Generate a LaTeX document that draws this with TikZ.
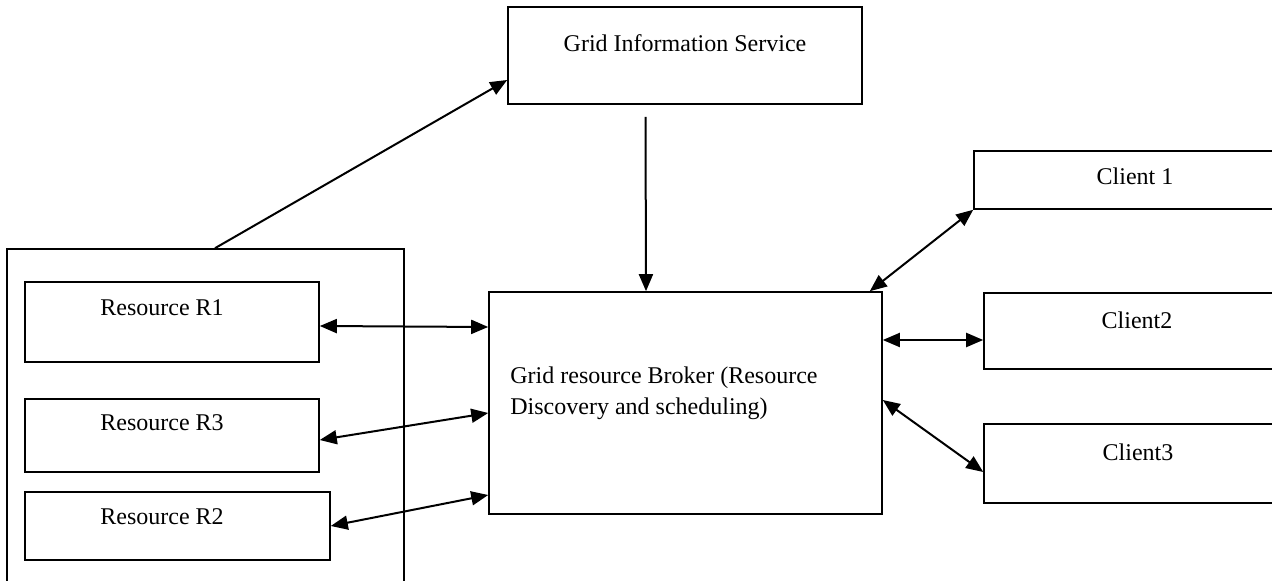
\documentclass[tikz,border=0pt]{standalone}
\usepackage{fontspec}
\setmainfont{Liberation Serif}
\usetikzlibrary{arrows.meta}

\begin{document}
\begin{tikzpicture}[x=0.5pt, y=-0.5pt,
  >={Triangle[length=8.5pt, width=7pt]},
  box/.style={draw, line width=0.8pt, inner sep=0pt},
  link/.style={line width=1pt},
  lbl/.style={font=\fontsize{12}{15.5}\selectfont, inner sep=0pt}]
\useasboundingbox (0, 0) rectangle (1272, 581);
% boxes
\node[box, minimum width=177pt, minimum height=48.5pt] (gis) at (685, 55.5) {};
\node[box, minimum width=198.5pt, minimum height=185.5pt] (pool) at (205.5, 434.5) {};
\node[box, minimum width=147pt, minimum height=40pt] (r1) at (172, 322) {};
\node[box, minimum width=147pt, minimum height=36.5pt] (r3) at (172, 435.5) {};
\node[box, minimum width=152.5pt, minimum height=34pt] (r2) at (177.5, 526) {};
\node[box, minimum width=196.5pt, minimum height=111pt] (broker) at (685.5, 403) {};
\node[box, minimum width=161pt, minimum height=29pt] (c1) at (1135, 180) {};
\node[box, minimum width=153pt, minimum height=38pt] (c2) at (1137, 331) {};
\node[box, minimum width=154pt, minimum height=39.5pt] (c3) at (1138, 463.5) {};
% texts
\node[lbl] (gist) at (685, 43) {Grid Information Service};
\node[lbl, anchor=west] (r1t) at (100, 308) {Resource R1};
\node[lbl, anchor=west] (r3t) at (100, 423) {Resource R3};
\node[lbl, anchor=west] (r2t) at (100, 517) {Resource R2};
\node[lbl, anchor=west, align=left] (brokert) at (510, 393)
  {Grid resource Broker (Resource\\Discovery and scheduling)};
\node[lbl] (c1t) at (1135, 176) {Client 1};
\node[lbl] (c2t) at (1137, 320) {Client2};
\node[lbl] (c3t) at (1138, 452) {Client3};
% connectors
\draw[link, ->] ([xshift=4.75pt]pool.north) -- ([yshift=-12.25pt]gis.west);
\draw[link, ->] ([shift={(-19.75pt, -6pt)}]gis.south) -- ([xshift=-19.75pt]broker.north);
\draw[link, <->] ([yshift=-2pt]r1.east) -- ([yshift=38pt]broker.west);
\draw[link, <->] ([yshift=-2.25pt]r3.east) -- ([yshift=-5pt]broker.west);
\draw[link, <->] (r2.east) -- ([yshift=-46pt]broker.west);
\draw[link, <->] ([xshift=-6.5pt]broker.north east) -- (c1.south west);
\draw[link, <->] ([yshift=31.5pt]broker.east) -- ([yshift=-4.5pt]c2.west);
\draw[link, <->] ([yshift=1.5pt]broker.east) -- ([yshift=-4.25pt]c3.west);
\end{tikzpicture}
\end{document}
